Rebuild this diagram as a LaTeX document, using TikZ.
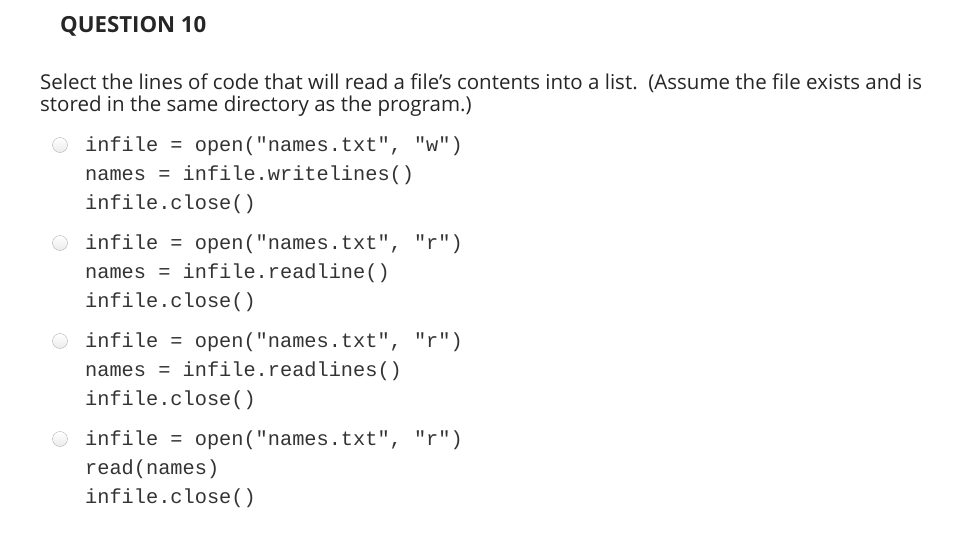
\documentclass[tikz,border=0pt]{standalone}
\usepackage{fontspec}
\setmainfont{Open Sans}
\newfontfamily\codefont{Liberation Mono}
\begin{document}
\begin{tikzpicture}[x=1pt,y=-1pt,
  txt/.style={anchor=base west,inner sep=0pt,text=black!85},
  code/.style={txt,font=\codefont\fontsize{20.3}{20}\selectfont,text=black!80},
  radio/.style={circle,draw=black!30,top color=white,bottom color=black!8,minimum size=15pt,inner sep=0pt}]
\useasboundingbox (0,0) rectangle (958,546);
\node[txt,font=\bfseries\fontsize{22.2}{20}\selectfont] (title) at (60,32) {QUESTION 10};
\node[txt,font=\fontsize{20.5}{20}\selectfont] (q1) at (40,89) {Select the lines of code that will read a file{\char"0027}s contents into a list.\ \ (Assume the file exists and is};
\node[txt,font=\fontsize{20.5}{20}\selectfont] (q2) at (40,111) {stored in the same directory as the program.)};
\foreach \i/\a/\b/\c in {0/{infile = open("names.txt", "w")}/{names = infile.writelines()}/{infile.close()},
  1/{infile = open("names.txt", "r")}/{names = infile.readline()}/{infile.close()},
  2/{infile = open("names.txt", "r")}/{names = infile.readlines()}/{infile.close()},
  3/{infile = open("names.txt", "r")}/{read(names)}/{infile.close()}}{
  \node[radio] (r\i) at (60,145+98*\i) {};
  \node[code] (a\i) at (85,151+98*\i) {\a};
  \node[code] (b\i) at (85,180+98*\i) {\b};
  \node[code] (c\i) at (85,209+98*\i) {\c};
}
\end{tikzpicture}
\end{document}
